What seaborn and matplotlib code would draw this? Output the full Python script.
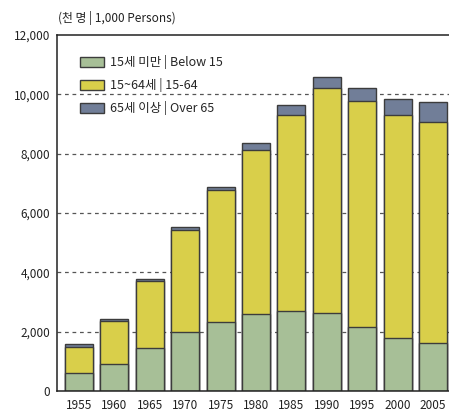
import matplotlib
matplotlib.use("Agg")
import matplotlib.pyplot as plt
from matplotlib.patches import Patch
import numpy as np
import pandas as pd
import seaborn as sns

years = ["1955", "1960", "1965", "1970", "1975", "1980", "1985", "1990", "1995", "2000", "2005"]
under15 = [600, 920, 1460, 1990, 2310, 2600, 2700, 2620, 2150, 1800, 1610]
age15_64 = [900, 1440, 2240, 3430, 4450, 5515, 6616, 7582, 7624, 7503, 7447]
over65 = [75, 80, 90, 120, 130, 255, 334, 398, 456, 542, 683]

labels = ["15세 미만 | Below 15", "15~64세 | 15-64", "65세 이상 | Over 65"]
colors = ["#a7bf97", "#d9cf4a", "#717e98"]
edge = "#3c3c3c"

sns.set_style("white")
plt.rcParams["font.family"] = ["Noto Sans CJK KR", "DejaVu Sans"]

df = pd.DataFrame({"year": years, "u15": under15, "mid": age15_64, "o65": over65})
df["top_mid"] = df["u15"] + df["mid"]
df["total"] = df["top_mid"] + df["o65"]

fig = plt.figure(figsize=(4.49, 4.12), dpi=100)
ax = fig.add_axes([57 / 449, 21 / 412, 392 / 449, 356 / 412])

# stacked by overlaying cumulative bars
for col, c in [("total", colors[2]), ("top_mid", colors[1]), ("u15", colors[0])]:
    sns.barplot(data=df, x="year", y=col, color=c, width=0.79,
                edgecolor=edge, linewidth=1.0, saturation=1, ax=ax)

ax.set_ylim(0, 12000)
ax.set_xlim(-0.62, 10.45)
ax.set_yticks(range(0, 12001, 2000))
ax.set_yticklabels([f"{v:,}" for v in range(0, 12001, 2000)])
ax.set_xlabel("")
ax.set_ylabel("")
ax.tick_params(axis="both", length=0, labelsize=8.5, colors="#222222")
ax.tick_params(axis="x", pad=6)
ax.tick_params(axis="y", pad=5)

for v in range(2000, 12000, 2000):
    ax.axhline(v, color="#555555", lw=0.9, ls=(0, (3, 3)), zorder=0)

for s in ["left", "bottom", "top"]:
    ax.spines[s].set_color("#222222")
    ax.spines[s].set_linewidth(1.1)
ax.spines["right"].set_visible(False)

handles = [Patch(facecolor=colors[i], edgecolor=edge, lw=1.0) for i in range(3)]
ax.legend(handles, labels, loc="upper left", bbox_to_anchor=(0.03, 0.975),
          frameon=False, fontsize=9, handlelength=1.9, handleheight=0.9,
          labelspacing=0.72, handletextpad=0.5)

fig.text(58 / 449, 1 - 18 / 412, "(천 명 | 1,000 Persons)", fontsize=8.5,
         ha="left", va="center", color="#222222")

fig.savefig("out.png", dpi=100)
